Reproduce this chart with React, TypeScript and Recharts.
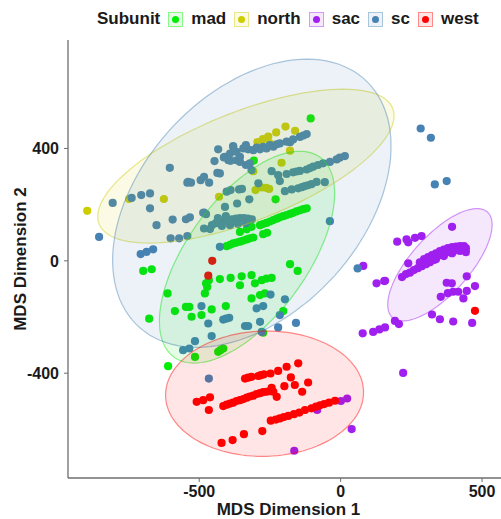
import { ScatterChart, Scatter, XAxis, YAxis, Label } from 'recharts'

const SUBUNITS = ['mad', 'north', 'sac', 'sc', 'west']
const COLORS = ['#00EE00', '#CDCD00', '#A020F0', '#4682B4', '#FF0000']

const X_TICKS = [-500, 0, 500]
const Y_TICKS = [-400, 0, 400]

// [MDS 1, MDS 2] per subunit
const MAD: [number, number][] = [
  [-106, 507], [-307, 357], [-230, 219],
  [-285, 127], [-274, 131], [-262, 135], [-250, 140], [-238, 145], [-226, 150], [-215, 155], [-203, 159],
  [-191, 163], [-179, 167], [-168, 171], [-156, 176], [-144, 180], [-132, 184], [-120, 187],
  [-356, 103], [-332, 112], [-315, 121],
  [-403, 52], [-391, 57], [-380, 62], [-368, 65], [-356, 68], [-344, 72], [-332, 76], [-321, 80], [-309, 83],
  [-274, 95], [-260, 100],
  [-698, -36], [-668, -30], [-612, -116], [-586, -179], [-547, -164], [-535, -164], [-527, -199], [-492, -193],
  [-456, -173], [-406, -161], [-677, -206],
  [-427, -65], [-389, -61], [-350, -55], [-315, -51], [-356, -87], [-303, -80], [-279, -69], [-262, -63], [-244, -61],
  [-476, -80], [-472, -93], [-480, -116], [-466, -69],
  [-179, -12], [-152, -36],
  [-315, -134], [-285, -122], [-268, -116], [-203, -179], [-274, -256],
  [-433, -324], [-415, -312], [-425, -318], [-515, -342], [-610, -375],
]

const NORTH: [number, number][] = [
  [-896, 178], [-748, 220], [-625, 220], [-430, 228], [-309, 319], [-301, 252], [-294, 423], [-256, 442],
  [-250, 418], [-228, 457], [-195, 478], [-161, 463], [-179, 392], [-209, 349], [-279, 261], [-264, 260],
  [-253, 256], [-275, 433],
]

const SAC: [number, number][] = [
  [1, -499], [23, -490], [-83, -531], [39, -599], [-164, -676],
  [80, -18], [127, -80], [154, -72], [157, -71],
  [78, -258], [115, -253], [137, -244], [157, -237], [192, -214], [206, -225],
  [394, 121], [200, 68], [233, 76], [239, 66], [263, 82], [286, 88], [239, -9],
  [446, -55], [375, -78], [393, -80], [475, -90], [446, -107], [434, -134], [398, -110], [379, -115], [354, -128], [416, -110],
  [323, -191], [351, -208], [398, -216], [465, -221], [221, -399],
  [217, -58], [231, -47], [245, -42], [259, -33], [273, -26], [287, -19], [302, -12], [316, -5], [330, 3],
  [280, -5], [295, 6], [309, 13], [323, 20], [337, 27], [351, 35], [365, 40], [379, 45], [394, 49], [408, 51],
  [422, 52], [436, 52], [443, 45],
  [309, -5], [337, 6], [365, 17], [394, 27], [422, 35], [443, 31], [351, 20], [379, 31], [408, 38], [429, 42],
  [323, 6], [295, -12],
]

const SC: [number, number][] = [
  [-854, 85], [-806, 206], [-739, 224], [-705, 234], [-674, 240], [-674, 187], [-604, 331], [-651, 127],
  [-594, 147], [-601, 80], [-571, 80], [-542, 88], [-547, 148], [-533, 155], [-542, 278], [-529, 278],
  [-495, 287], [-483, 299], [-465, 278], [-483, 172], [-476, 166], [-483, 115], [-436, 313], [-427, 311],
  [-446, 355], [-433, 397], [-409, 370], [-397, 358], [-380, 406], [-368, 358], [-356, 370], [-403, 246],
  [-389, 252], [-359, 254], [-349, 256], [-323, 219], [-409, 192], [-366, 204], [-335, 341],
  [-707, 24], [-686, 32], [-663, 41], [-539, 281], [-486, 171],
  [-413, 368], [-389, 356], [-356, 352], [-321, 347], [-315, 323], [-291, 276],
  [-391, 382], [-368, 388], [-344, 400], [-327, 397], [-309, 394], [-297, 403], [-285, 397], [-274, 406],
  [-262, 400], [-250, 412], [-238, 406], [-226, 415], [-215, 418], [-191, 424], [-179, 422], [-168, 432],
  [-144, 441], [-132, 446], [-120, 451], [-380, 408], [-335, 412],
  [-244, 319], [-221, 305], [-191, 309], [-168, 315], [-156, 318], [-144, 320], [-120, 325], [-108, 330],
  [-97, 335], [-80, 341], [-62, 347], [-38, 352], [-14, 361], [-3, 367], [15, 373],
  [-197, 248], [-173, 254], [-150, 258], [-137, 262], [-126, 266], [-116, 269], [-103, 273], [-85, 281],
  [-56, 280], [-215, 284],
  [-455, 127], [-441, 134], [-427, 138], [-413, 141], [-399, 145], [-384, 148], [-370, 150], [-356, 152],
  [-342, 152], [-328, 150], [-314, 148], [-420, 124], [-391, 127], [-363, 131], [-335, 134], [-434, 152],
  [-406, 159], [-462, 113],
  [-38, 141], [-427, 50],
  [-492, -161], [-468, -223], [-456, -268], [-515, -286], [-557, -318], [-535, -312], [-415, -209], [-394, -203],
  [-405, -206], [-338, -232], [-327, -232], [-297, -169], [-274, -161], [-285, -217], [-248, -120], [-197, -137],
  [-215, -193], [-221, -237], [-158, -221], [-279, -253], [-466, -419],
  [60, -27], [283, 471], [319, 438], [333, 272], [375, 284],
]

const WEST: [number, number][] = [
  [-454, 0], [-468, -53], [-509, -502], [-486, -496], [-462, -486], [-466, -531],
  [-415, -517], [-403, -512], [-391, -508], [-380, -505], [-368, -499], [-356, -496], [-344, -492], [-332, -487],
  [-321, -483], [-309, -480], [-297, -474], [-285, -471], [-274, -467], [-262, -466], [-250, -464], [-238, -466],
  [-226, -484], [-244, -452],
  [-338, -419], [-327, -416], [-315, -413], [-291, -410], [-282, -407], [-271, -404], [-248, -401], [-221, -392],
  [-191, -377], [-150, -365],
  [-176, -415], [-199, -446], [-162, -442], [-136, -466], [-115, -433],
  [-421, -648], [-382, -638], [-342, -617], [-277, -606], [-247, -569], [-229, -565], [-215, -561], [-201, -556],
  [-185, -552], [-165, -546], [-146, -540], [-126, -531], [-103, -525], [-87, -519], [-73, -514], [-58, -510],
  [-41, -505], [-20, -498],
  [475, -178],
]

const POINTS = [MAD, NORTH, SAC, SC, WEST]

// ellipse per subunit: centre, top point, end of the horizontal chord through the centre
const ELLIPSE_CENTER: [number, number][] = [[-331, 13], [-335, 337], [351, -14], [-314, 205], [-269, -473]]
const ELLIPSE_TOP: [number, number][] = [[-144, 390], [8, 611], [482, 186], [-119, 718], [-261, -250]]
const ELLIPSE_SIDE: [number, number][] = [[-84, 13], [61, 337], [481, -14], [138, 205], [81, -473]]

const FONT = '"Liberation Sans", Arial, sans-serif'

const toRows = (pts: [number, number][]) => pts.map(([x, y]) => ({ x, y }))

const dot = (color: string) => (p: any) => <circle cx={p.cx} cy={p.cy} r={4.1} fill={color} />

const ellipseLine = (color: string) => (props: any) => {
  const [c, a, b] = props.points
  const n = 120
  let d = ''
  for (let i = 0; i <= n; i++) {
    const t = (i / n) * Math.PI * 2
    const x = c.x + (a.x - c.x) * Math.cos(t) + (b.x - c.x) * Math.sin(t)
    const y = c.y + (a.y - c.y) * Math.cos(t) + (b.y - c.y) * Math.sin(t)
    d += (i ? 'L' : 'M') + x.toFixed(1) + ',' + y.toFixed(1)
  }
  return <path d={d + 'Z'} fill={color} fillOpacity={0.1} stroke={color} strokeOpacity={0.45} strokeWidth={1.2} />
}

const tickStyle = { fill: '#1a1a1a', fontSize: 16, fontWeight: 'bold', fontFamily: FONT }

export default function App() {
  return (
    <div style={{ position: 'absolute', left: 0, top: 0, width: 501, height: 519, background: '#fff', fontFamily: FONT }}>
      <div style={{ position: 'absolute', left: 97, top: 9, display: 'flex', alignItems: 'center', fontSize: 17, fontWeight: 'bold', color: '#1a1a1a' }}>
        <span>Subunit</span>
        {SUBUNITS.map((s, i) => (
          <span key={s} style={{ display: 'flex', alignItems: 'center' }}>
            <span style={{ width: 13, height: 13, marginLeft: 8, marginRight: 8, border: `1px solid ${COLORS[i]}66`, background: `${COLORS[i]}1a`, display: 'flex', alignItems: 'center', justifyContent: 'center' }}>
              <span style={{ width: 7, height: 7, borderRadius: '50%', background: COLORS[i] }} />
            </span>
            <span>{s}</span>
          </span>
        ))}
      </div>
      <ScatterChart width={501} height={519} margin={{ top: 40, right: 0, bottom: 0, left: 8 }}>
        <XAxis
          type="number"
          dataKey="x"
          domain={[-964, 567]}
          ticks={X_TICKS}
          allowDataOverflow
          height={41}
          tickSize={4}
          tickMargin={4}
          tick={tickStyle}
          axisLine={{ stroke: '#6e6e6e', strokeWidth: 1.3 }}
          tickLine={{ stroke: '#6e6e6e' }}
        >
          <Label
            content={({ viewBox }: any) => (
              <text x={viewBox.x + viewBox.width / 2 + 4} y={viewBox.y + 37} textAnchor="middle" fontSize={17} fontWeight="bold" fontFamily={FONT} fill="#1a1a1a">
                MDS Dimension 1
              </text>
            )}
          />
        </XAxis>
        <YAxis
          type="number"
          dataKey="y"
          domain={[-773, 786]}
          ticks={Y_TICKS}
          allowDataOverflow
          width={60}
          tickSize={4}
          tickMargin={5}
          tick={tickStyle}
          axisLine={{ stroke: '#6e6e6e', strokeWidth: 1.3 }}
          tickLine={{ stroke: '#6e6e6e' }}
        >
          <Label
            content={({ viewBox }: any) => {
              const x = viewBox.x + 18
              const y = viewBox.y + viewBox.height / 2
              return (
                <text x={x} y={y} transform={`rotate(-90 ${x} ${y})`} textAnchor="middle" fontSize={17} fontWeight="bold" fontFamily={FONT} fill="#1a1a1a">
                  MDS Dimension 2
                </text>
              )
            }}
          />
        </YAxis>
        {SUBUNITS.map((s, i) => (
          <Scatter key={s} name={s} data={toRows(POINTS[i])} shape={dot(COLORS[i])} isAnimationActive={false} />
        ))}
        {SUBUNITS.map((s, i) => (
          <Scatter
            key={'ell-' + s}
            data={toRows([ELLIPSE_CENTER[i], ELLIPSE_TOP[i], ELLIPSE_SIDE[i]])}
            shape={() => <g />}
            line={ellipseLine(COLORS[i])}
            lineType="joint"
            isAnimationActive={false}
          />
        ))}
      </ScatterChart>
    </div>
  )
}
